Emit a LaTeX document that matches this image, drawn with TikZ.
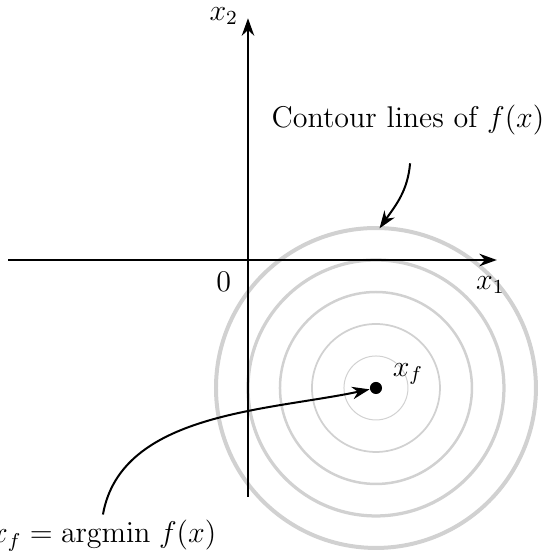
\documentclass[tikz,border=0pt]{standalone}
\usepackage{amsmath}
\usepackage{tikz}
\usetikzlibrary{arrows.meta, positioning, calc}

\tikzset{
  axis/.style={thick, -{Stealth[length=7pt, width=5pt]}},
  pointer/.style={thick, -{Stealth[length=7pt, width=5pt]}},
  level/.style={black!18},
}

\begin{document}
\begin{tikzpicture}[font=\large]
\useasboundingbox (-3.488,-4.107) rectangle (4.177,3.657);
% level sets of the bowl: equally spaced rings round the minimiser,
% drawn heavier the farther out they sit
\coordinate (xmin) at (1.8,-1.8);
\foreach \r/\w in {0.45/0.4, 0.9/0.7, 1.35/1.0, 1.8/1.3, 2.25/1.6}
  \draw[level, line width=\w pt] (xmin) circle (\r);

% axes
\coordinate (x1from) at (-3.375,0);
\coordinate (x1to) at (3.5,0);
\coordinate (x2from) at (0,-3.33);
\coordinate (x2to) at (0,3.40);
\draw[axis] (x1from) -- (x1to);
\draw[axis] (x2from) -- (x2to);
\node (lx1) at (3.41,-0.35) {$x_1$};
\node (lx2) at (-0.34,3.43) {$x_2$};
\node (lzero) at (-0.34,-0.31) {$0$};

% the minimiser
\node[circle, fill, inner sep=0pt, minimum size=0.17cm] (xf) at (xmin) {};
\node (lxf) at (2.25,-1.60) {$x_f$};

% labels with pointers
\node (contour) at (2.25,1.97) {Contour lines of $f(x)$};
\coordinate (cfrom) at (2.28,1.36);
\coordinate (cto) at (1.85,0.445);
\draw[pointer] (cfrom) to[out=-95, in=55] (cto);

\node (argmin) at (-2.03,-3.88) {$x_f = \mathrm{argmin}\; f(x)$};
\coordinate (afrom) at (-2.04,-3.58);
\draw[pointer] (afrom) to[out=80, in=192, looseness=0.9] (xf);
\end{tikzpicture}
\end{document}
